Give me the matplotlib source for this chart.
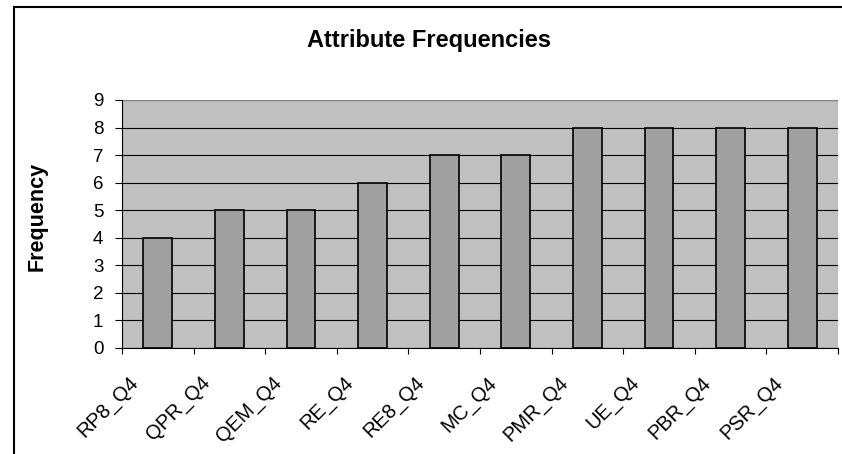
import matplotlib.pyplot as plt
from matplotlib.patches import Rectangle

plt.rcParams['font.family'] = ['Liberation Sans', 'DejaVu Sans']

categories = ['RP8_Q4', 'QPR_Q4', 'QEM_Q4', 'RE_Q4', 'RE8_Q4',
              'MC_Q4', 'PMR_Q4', 'UE_Q4', 'PBR_Q4', 'PSR_Q4']
frequency = [4, 5, 5, 6, 7, 7, 8, 8, 8, 8]
y_ticks = list(range(0, 10))

fig = plt.figure(figsize=(8.42, 4.54), dpi=100)
ax = fig.add_axes([122 / 842, 1 - 348 / 454, 716 / 842, 248 / 454])

x = list(range(len(categories)))
ax.set_facecolor('#C0C0C0')
ax.set_axisbelow(True)
ax.yaxis.grid(True, color='black', linewidth=0.8)
ax.bar(x, frequency, width=0.4, color='#A0A0A0', edgecolor='black', linewidth=1.2, zorder=3)

ax.set_xlim(-0.5, len(categories) - 0.5)
ax.set_ylim(0, 9)
ax.set_yticks(y_ticks)
ax.tick_params(axis='y', labelsize=13.5, length=5, width=0.8, direction='out', pad=8.5)

# ticks on category boundaries, labels centred under the bars
ax.set_xticks([i - 0.5 for i in range(len(categories) + 1)])
ax.set_xticklabels([])
ax.tick_params(axis='x', length=4.5, width=0.8, direction='out')
for i, lab in enumerate(categories):
    ax.annotate(lab, xy=(i, 0), xycoords=('data', 'axes fraction'),
                xytext=(-21, -18), textcoords='offset points',
                rotation=45, ha='right', va='top', rotation_mode='anchor',
                fontsize=14.5)

for side in ['top', 'right']:
    ax.spines[side].set_visible(False)
ax.spines['left'].set_linewidth(0.8)
ax.spines['bottom'].set_linewidth(0.8)
# grey plot-area border on top and right
ax.add_patch(Rectangle((0, 0), 1, 1, transform=ax.transAxes, fill=False,
                       edgecolor='#808080', linewidth=0.8, zorder=1))

fig.text(37 / 842, 1 - 216 / 454, 'Frequency', rotation=90, ha='center', va='center',
         fontsize=15.5, fontweight='bold')
fig.text(429 / 842, 1 - 47 / 454, 'Attribute Frequencies', ha='center', va='baseline',
         fontsize=17, fontweight='bold')

# chart border
fig.patches.append(Rectangle((14 / 842, -0.1), 1.1, 1 - 7 / 454 + 0.1,
                             transform=fig.transFigure, fill=False,
                             edgecolor='black', linewidth=1.5))

fig.savefig('out.png', dpi=100)
